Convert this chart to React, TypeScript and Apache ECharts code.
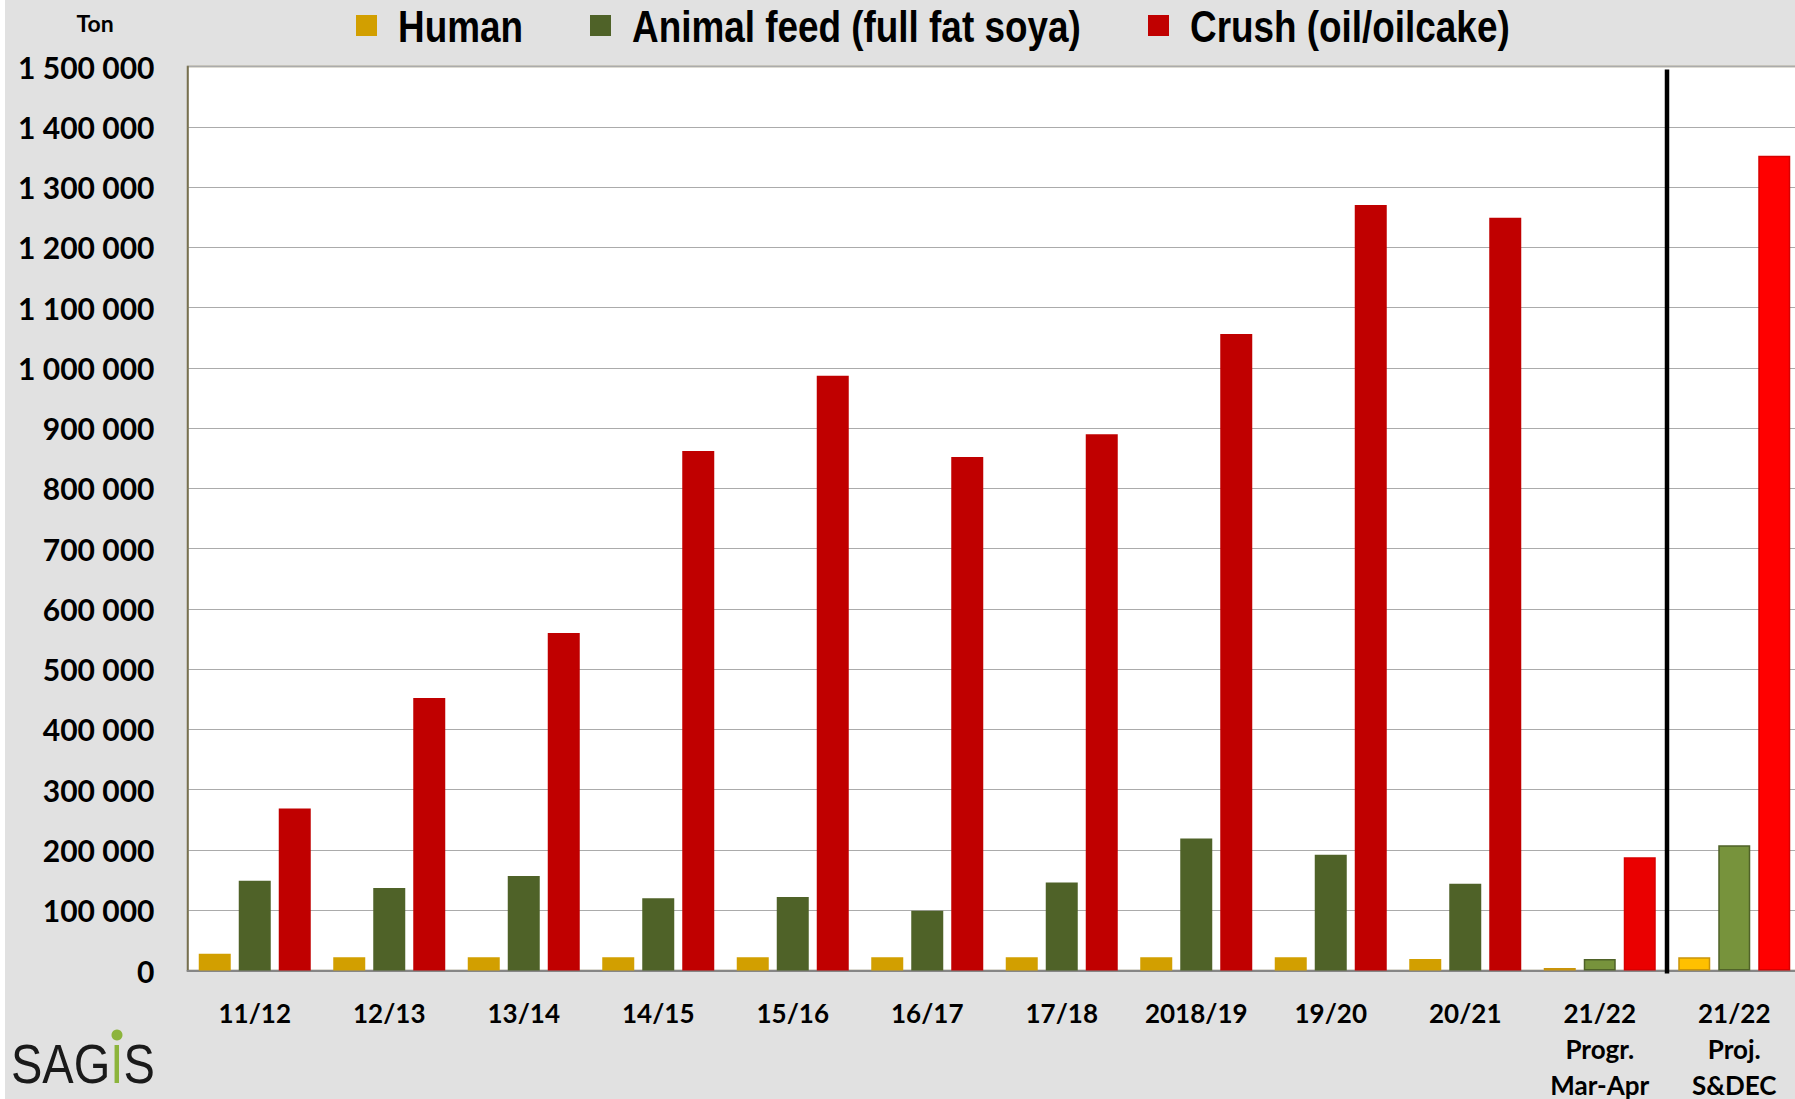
import React, { useEffect, useRef } from "react";
import * as echarts from "echarts";

const categories = [
  "11/12",
  "12/13",
  "13/14",
  "14/15",
  "15/16",
  "16/17",
  "17/18",
  "2018/19",
  "19/20",
  "20/21",
  "21/22\nProgr.\nMar-Apr",
  "21/22\nProj.\nS&DEC",
];

const seriesNames = ["Human", "Animal feed (full fat soya)", "Crush (oil/oilcake)"];

const human = [28000, 22000, 22000, 22000, 22000, 22000, 22000, 22000, 22000, 19000, 4000, 22000];
const animalFeed = [149000, 137000, 157000, 120000, 122000, 99000, 146000, 219000, 192000, 144000, 19000, 208000];
const crush = [269000, 452000, 560000, 862000, 987000, 852000, 890000, 1056000, 1270000, 1249000, 188000, 1352000];

const yTicks = { min: 0, max: 1500000, interval: 100000 };

// styling
const baseColors = ["#D29F00", "#4F6228", "#C00000"];
const progrColors = ["#E8B820", "#77933C", "#EA0000"];
const projColors = ["#FFC000", "#77933C", "#FF0000"];
const specialBorders = ["#C9940A", "#4F6228", "#D80000"];
const legendMarkerX = [356, 590, 1148];

function fmt(v: number) {
  return String(v).replace(/\B(?=(\d{3})+(?!\d))/g, " ");
}

function buildData(values: number[], s: number) {
  return values.map((v, i) => {
    if (i === 10) {
      return { value: v, itemStyle: { color: progrColors[s], borderColor: specialBorders[s], borderWidth: 1.5 } };
    }
    if (i === 11) {
      return { value: v, itemStyle: { color: projColors[s], borderColor: specialBorders[s], borderWidth: 1.5 } };
    }
    return v;
  });
}

export default function App() {
  const ref = useRef<HTMLDivElement>(null);

  useEffect(() => {
    if (!ref.current) return;
    const chart = echarts.init(ref.current, null, { renderer: "svg" });
    const all = [human, animalFeed, crush];

    const legendGraphics = seriesNames.map((name, i) => ({
      id: "leg" + i,
      type: "group",
      x: legendMarkerX[i],
      y: 15,
      children: [
        { type: "rect", shape: { x: 0, y: 0, width: 21, height: 21 }, style: { fill: baseColors[i] } },
        {
          type: "text",
          x: 42,
          y: 11.5,
          scaleX: 0.82,
          style: {
            text: name,
            font: "bold 45px 'Liberation Sans', Arial, sans-serif",
            fill: "#000",
            verticalAlign: "middle",
          },
        },
      ],
    }));

    const option: any = {
      animation: false,
      backgroundColor: "#E1E1E1",
      textStyle: { fontFamily: "Lato" },
      grid: {
        left: 187.5,
        top: 66.5,
        width: 1614,
        height: 904,
        show: true,
        backgroundColor: "#FFFFFF",
        borderColor: "#77704F",
        borderWidth: 1.5,
        containLabel: false,
        outerBoundsMode: "none",
      },
      xAxis: {
        type: "category",
        data: categories,
        axisLine: { show: true, lineStyle: { color: "#868686", width: 2 } },
        axisTick: { show: false },
        axisLabel: {
          interval: 0,
          color: "#000",
          fontFamily: "Lato",
          fontWeight: "bold",
          fontSize: 26,
          lineHeight: 36,
          margin: 24,
        },
        splitLine: { show: false },
      },
      yAxis: {
        type: "value",
        min: yTicks.min,
        max: yTicks.max,
        interval: yTicks.interval,
        axisLine: { show: true, lineStyle: { color: "#77704F", width: 1.5 } },
        axisTick: { show: false },
        axisLabel: {
          color: "#000",
          fontFamily: "Lato",
          fontWeight: "bold",
          fontSize: 30,
          margin: 33,
          formatter: (v: number) => fmt(v),
        },
        splitLine: { show: true, lineStyle: { color: "#ABABAB", width: 1.2 } },
      },
      series: seriesNames.map((name, s) => ({
        name,
        type: "bar",
        barWidth: 32,
        barGap: "25%",
        itemStyle: { color: baseColors[s] },
        data: buildData(all[s], s),
      })),
      graphic: [
        { id: "leftstrip", type: "rect", left: 0, top: 0, shape: { width: 5, height: 1099 }, style: { fill: "#FFFFFF" }, z: 10 },
        ...legendGraphics,
        {
          id: "ton",
          type: "text",
          x: 95,
          y: 23,
          style: {
            text: "Ton",
            font: "bold 23px Lato",
            fill: "#000",
            align: "center",
            verticalAlign: "middle",
          },
        },
        {
          id: "logo",
          type: "text",
          x: 11,
          y: 1064,
          scaleX: 0.84,
          style: {
            text: "{a|SAG}{g|I}{a|S}",
            verticalAlign: "middle",
            rich: {
              a: { font: "56px 'Liberation Sans', sans-serif", fill: "#1A1A1A", lineHeight: 44, height: 44 },
              g: { font: "56px 'Liberation Sans', sans-serif", fill: "#8CB43C", lineHeight: 44, height: 44 },
            },
          },
        },
        { id: "logodot", type: "circle", shape: { cx: 117, cy: 1035, r: 5.5 }, style: { fill: "#8CB43C" } },
      ],
    };
    chart.setOption(option);

    const x10 = chart.convertToPixel({ xAxisIndex: 0 }, categories[10]) as number;
    const x11 = chart.convertToPixel({ xAxisIndex: 0 }, categories[11]) as number;
    const yTop = chart.convertToPixel({ yAxisIndex: 0 }, yTicks.max) as number;
    const yZero = chart.convertToPixel({ yAxisIndex: 0 }, 0) as number;
    const xs = (x10 + x11) / 2;
    chart.setOption({
      graphic: [
        {
          id: "sep",
          type: "line",
          shape: { x1: xs, y1: yTop + 3, x2: xs, y2: yZero + 3 },
          style: { stroke: "#000", lineWidth: 4.5 },
          z: 20,
        },
      ],
    });

    return () => chart.dispose();
  }, []);

  return (
    <div
      ref={ref}
      style={{ position: "absolute", left: 0, top: 0, width: 1795, height: 1099 }}
    />
  );
}
